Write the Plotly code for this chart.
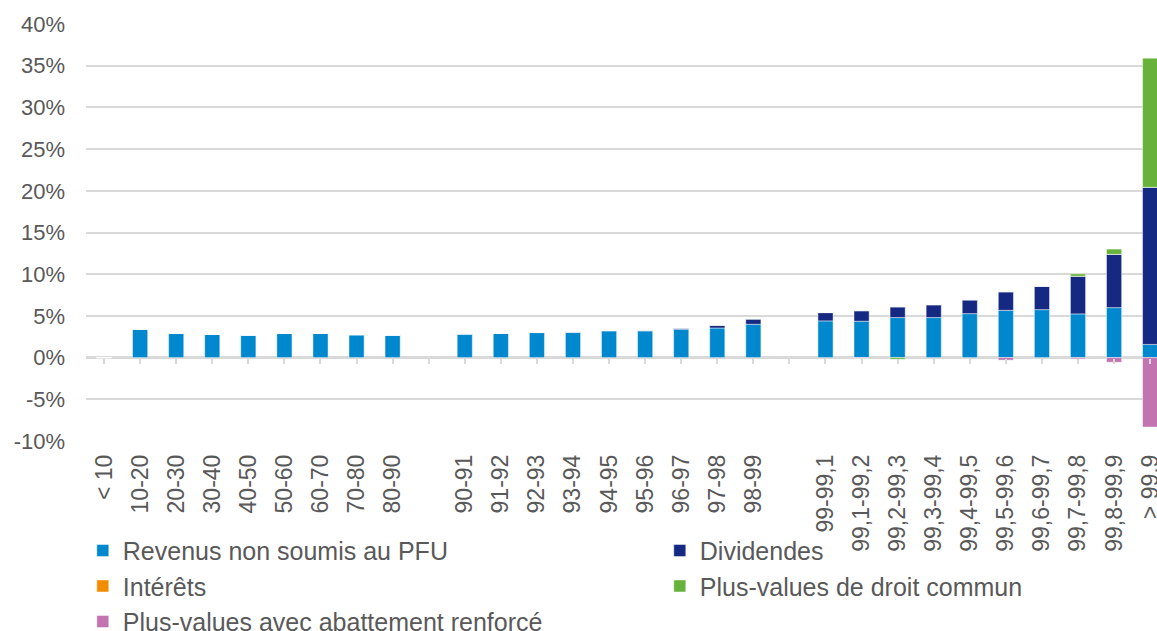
import plotly.graph_objects as go

# income brackets (blank entries are the gaps between groups)
categories = ["< 10", "10-20", "20-30", "30-40", "40-50", "50-60", "60-70", "70-80", "80-90", " ",
              "90-91", "91-92", "92-93", "93-94", "94-95", "95-96", "96-97", "97-98", "98-99", "  ",
              "99-99,1", "99,1-99,2", "99,2-99,3", "99,3-99,4", "99,4-99,5", "99,5-99,6",
              "99,6-99,7", "99,7-99,8", "99,8-99,9", "> 99,9"]

revenus = [0, 3.4, 2.9, 2.8, 2.7, 2.9, 2.9, 2.75, 2.7, None,
           2.85, 2.9, 3.0, 3.05, 3.2, 3.2, 3.4, 3.55, 4.0, None,
           4.4, 4.36, 4.8, 4.8, 5.27, 5.67, 5.75, 5.24, 5.99, 1.58]
dividendes = [0, 0, 0, 0, 0, 0, 0, 0, 0, None,
              0, 0.02, 0.03, 0.04, 0.06, 0.1, 0.15, 0.35, 0.65, None,
              1.0, 1.27, 1.3, 1.55, 1.67, 2.23, 2.82, 4.52, 6.39, 18.85]
interets = [0, 0, 0, 0, 0, 0, 0, 0, 0, None,
            0, 0, 0, 0, 0, 0, 0, 0, 0, None,
            0, 0, 0, 0, 0, 0, 0, 0, 0, 0]
pv_droit_commun = [0, 0, 0, 0, 0, 0, 0, 0, 0, None,
                   0, 0, 0, 0, 0, 0, 0, 0, 0, None,
                   0, 0, -0.2, 0, 0, 0, 0, 0.28, 0.63, 15.47]
pv_abattement = [0, 0, 0, 0, 0, 0, 0, 0, 0, None,
                 0, 0, 0, 0, 0, 0, 0, 0, 0, None,
                 0, -0.05, 0, 0, 0, -0.3, 0, -0.15, -0.56, -8.33]

ytick_vals = [-10, -5, 0, 5, 10, 15, 20, 25, 30, 35, 40]
ytick_text = ["-10%", "-5%", "0%", "5%", "10%", "15%", "20%", "25%", "30%", "35%", "40%"]

series = [
    ("Revenus non soumis au PFU", revenus, "#0088CE"),
    ("Dividendes", dividendes, "#152882"),
    ("Intérêts", interets, "#F28C00"),
    ("Plus-values de droit commun", pv_droit_commun, "#66B23A"),
    ("Plus-values avec abattement renforcé", pv_abattement, "#C174B0"),
]

GRID = "#D9D9D9"
TXT = "#595959"
FONT = "Liberation Sans, Arial, sans-serif"

fig = go.Figure()
for name, vals, col in series:
    fig.add_trace(go.Bar(x=categories, y=vals, name=name,
                         marker=dict(color=col, line=dict(color="rgba(255,255,255,0.45)", width=1))))

# empty trace to carry the tick marks along the zero line
fig.add_trace(go.Scatter(x=categories, y=[None] * len(categories), xaxis="x2",
                         showlegend=False, hoverinfo="skip", mode="lines"))

fig.update_layout(
    width=1157, height=631,
    margin=dict(l=86, r=0, t=24, b=190, autoexpand=False),
    paper_bgcolor="white", plot_bgcolor="white",
    barmode="relative", bargap=0.58,
    font=dict(family=FONT, color=TXT),
    xaxis=dict(type="category", categoryorder="array", categoryarray=categories,
               range=[-0.5, 29.19], tickangle=-90, tickfont=dict(size=23, color=TXT),
               showgrid=False, showline=False, ticks="", ticklabelstandoff=8,
               automargin=False),
    xaxis2=dict(type="category", overlaying="x", matches="x", anchor="free", position=0.2,
                showticklabels=False, ticks="outside", ticklen=5, tickwidth=2,
                tickcolor=GRID, showgrid=False, showline=False, automargin=False),
    yaxis=dict(range=[-10, 40], tickmode="array", tickvals=ytick_vals, ticktext=ytick_text,
               tickfont=dict(size=22, color=TXT), gridcolor=GRID, gridwidth=1.5,
               zeroline=True, zerolinecolor=GRID, zerolinewidth=3,
               showline=False, ticks="", ticklabelstandoff=20, automargin=False),
    legend=dict(orientation="h", x=-0.003, xanchor="left", y=-0.208, yanchor="top",
                entrywidth=532, entrywidthmode="pixels", bgcolor="rgba(0,0,0,0)",
                font=dict(size=25, color=TXT), traceorder="normal",
                itemclick=False, tracegroupgap=0),
)

# drop the default 8px body margin so the figure fills the window
fig.write_html("out.html", config={"displayModeBar": False},
               post_script="document.body.style.margin='0px';")
